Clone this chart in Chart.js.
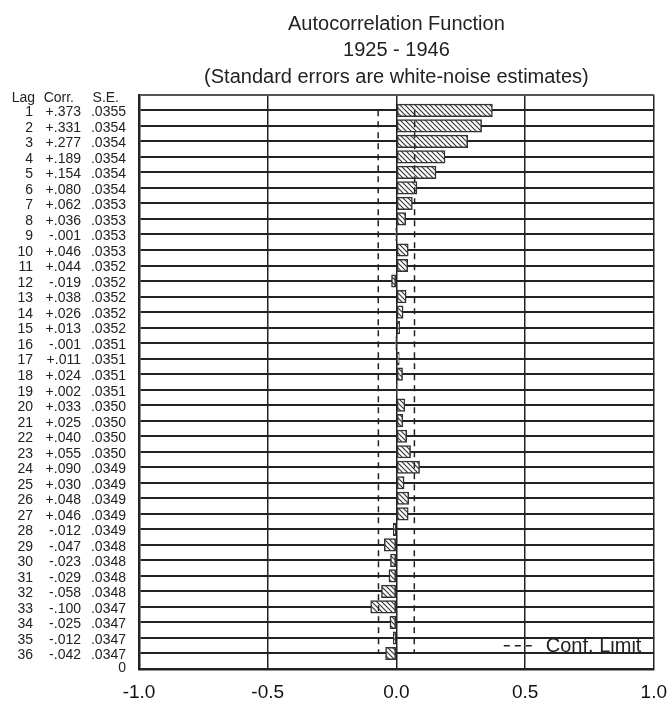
<!DOCTYPE html>
<html>
<head>
<meta charset="utf-8">
<script src="https://cdn.jsdelivr.net/npm/chart.js@4.4.1/dist/chart.umd.min.js"></script>
<style>
  html, body { margin: 0; padding: 0; background: #fff; }
  #wrap { width: 667px; height: 711px; }
</style>
</head>
<body>
<div id="wrap"><canvas id="acfChart"></canvas></div>
<script>
// Chart data
const titleLines = ['Autocorrelation Function', '1925 - 1946', '(Standard errors are white-noise estimates)'];
const lags = [1, 2, 3, 4, 5, 6, 7, 8, 9, 10, 11, 12, 13, 14, 15, 16, 17, 18,
  19, 20, 21, 22, 23, 24, 25, 26, 27, 28, 29, 30, 31, 32, 33, 34, 35, 36];
const corr = [0.373, 0.331, 0.277, 0.189, 0.154, 0.080, 0.062, 0.036, -0.001, 0.046, 0.044, -0.019,
  0.038, 0.026, 0.013, -0.001, 0.011, 0.024, 0.002, 0.033, 0.025, 0.040, 0.055, 0.090,
  0.030, 0.048, 0.046, -0.012, -0.047, -0.023, -0.029, -0.058, -0.100, -0.025, -0.012, -0.042];
const stdErr = [0.0355, 0.0354, 0.0354, 0.0354, 0.0354, 0.0354, 0.0353, 0.0353, 0.0353, 0.0353, 0.0352, 0.0352,
  0.0352, 0.0352, 0.0352, 0.0351, 0.0351, 0.0351, 0.0351, 0.0350, 0.0350, 0.0350, 0.0350, 0.0349,
  0.0349, 0.0349, 0.0349, 0.0349, 0.0348, 0.0348, 0.0348, 0.0348, 0.0347, 0.0347, 0.0347, 0.0347];
const xTickLabels = ['-1.0', '-0.5', '0.0', '0.5', '1.0'];
const columnHeaders = ['Lag', 'Corr.', 'S.E.'];
const legendLabel = 'Conf. Limit';

const FONT = '"Liberation Sans", Arial, sans-serif';
const INK = '#222';

// Diagonal hatch fill for the bars
function makeHatch() {
  const c = document.createElement('canvas');
  c.width = 5; c.height = 5;
  const g = c.getContext('2d');
  g.fillStyle = '#fff';
  g.fillRect(0, 0, 5, 5);
  g.strokeStyle = '#333';
  g.lineWidth = 1.1;
  g.beginPath();
  g.moveTo(0, 0); g.lineTo(5, 5);
  g.moveTo(-1, 4); g.lineTo(1, 6);
  g.moveTo(4, -1); g.lineTo(6, 1);
  g.stroke();
  return g.createPattern(c, 'repeat');
}

function fmtCorr(v) {
  const s = Math.abs(v).toFixed(3).replace(/^0/, '');
  return (v < 0 ? '-' : '+') + s;
}
function fmtSe(v) {
  return v.toFixed(4).replace(/^0/, '');
}

// Left-hand table of lag / corr / s.e. plus the bottom-right legend
const tablePlugin = {
  id: 'acfTable',
  afterDatasetsDraw(chart) {
    const ctx = chart.ctx;
    const y = chart.scales.y;
    const area = chart.chartArea;
    ctx.save();
    ctx.fillStyle = INK;
    ctx.textBaseline = 'middle';

    // legend
    const ly = y.getPixelForValue(35.5);
    ctx.strokeStyle = INK;
    ctx.lineWidth = 1.5;
    ctx.setLineDash([6, 5]);
    ctx.beginPath();
    ctx.moveTo(area.right - 150, ly); ctx.lineTo(area.right - 122, ly);
    ctx.stroke();
    ctx.setLineDash([]);
    ctx.font = '20px ' + FONT;
    ctx.textAlign = 'left';
    ctx.fillText(legendLabel, area.right - 108, ly + 1);

    // table
    ctx.font = '14px ' + FONT;
    ctx.textAlign = 'right';
    const hy = y.getPixelForValue(0) + 3;
    ctx.fillText(columnHeaders[0], 35, hy);
    ctx.fillText(columnHeaders[1], 74, hy);
    ctx.fillText(columnHeaders[2], 119, hy);
    lags.forEach((lag, i) => {
      const py = y.getPixelForValue(lag) + 2;
      ctx.fillText(String(lag), 33, py);
      ctx.fillText(fmtCorr(corr[i]), 81, py);
      ctx.fillText(fmtSe(stdErr[i]), 126, py);
    });
    ctx.fillText('0', 126, area.bottom - 1);
    ctx.restore();
  }
};

const hatch = makeHatch();
const ctx = document.getElementById('acfChart').getContext('2d');
const acfChart = new Chart(ctx, {
  type: 'bar',
  data: {
    datasets: [
      {
        type: 'line',
        label: legendLabel,
        data: lags.map((lag, i) => ({ x: 2 * stdErr[i], y: lag })),
        borderColor: INK,
        borderWidth: 1.5,
        borderDash: [6, 5],
        pointRadius: 0,
        order: 0,
      },
      {
        type: 'line',
        label: 'lower',
        data: lags.map((lag, i) => ({ x: -2 * stdErr[i], y: lag })),
        borderColor: INK,
        borderWidth: 1.5,
        borderDash: [6, 5],
        pointRadius: 0,
        order: 0,
      },
      {
        label: 'Corr.',
        data: lags.map((lag, i) => ({ x: corr[i], y: lag })),
        backgroundColor: hatch,
        borderColor: '#333',
        borderWidth: 1.5,
        borderSkipped: false,
        barThickness: 12.5,
        order: 1,
      },
    ],
  },
  options: {
    indexAxis: 'y',
    responsive: true,
    maintainAspectRatio: false,
    animation: false,
    layout: { padding: { left: 139, right: 0, top: 0, bottom: 9 } },
    scales: {
      x: {
        type: 'linear',
        min: -1,
        max: 1,
        ticks: {
          stepSize: 0.5,
          padding: 0,
          color: '#111',
          font: { family: FONT, size: 19, lineHeight: 1 },
          callback: (v, i) => xTickLabels[i],
        },
        grid: {
          drawTicks: true,
          tickLength: 14,
          tickColor: 'rgba(0,0,0,0)',
          color: INK,
          lineWidth: 1.5,
        },
        border: { display: true, color: INK, width: 2.5 },
      },
      y: {
        type: 'linear',
        reverse: true,
        offset: false,
        min: 0,
        max: 37,
        ticks: { stepSize: 1, display: false },
        grid: {
          offset: false,
          drawTicks: false,
          color: (c) => (c.tick && c.tick.value === 0 ? '#555' : INK),
          lineWidth: 2,
        },
        border: { display: true, color: INK, width: 2.5 },
      },
    },
    plugins: {
      legend: { display: false },
      tooltip: { enabled: false },
      title: {
        display: true,
        text: titleLines,
        fullSize: false,
        color: INK,
        font: { family: FONT, size: 20, weight: 'normal', lineHeight: 1.33 },
        padding: { top: 11, bottom: 4 },
      },
    },
  },
  plugins: [tablePlugin],
});
</script>
</body>
</html>
